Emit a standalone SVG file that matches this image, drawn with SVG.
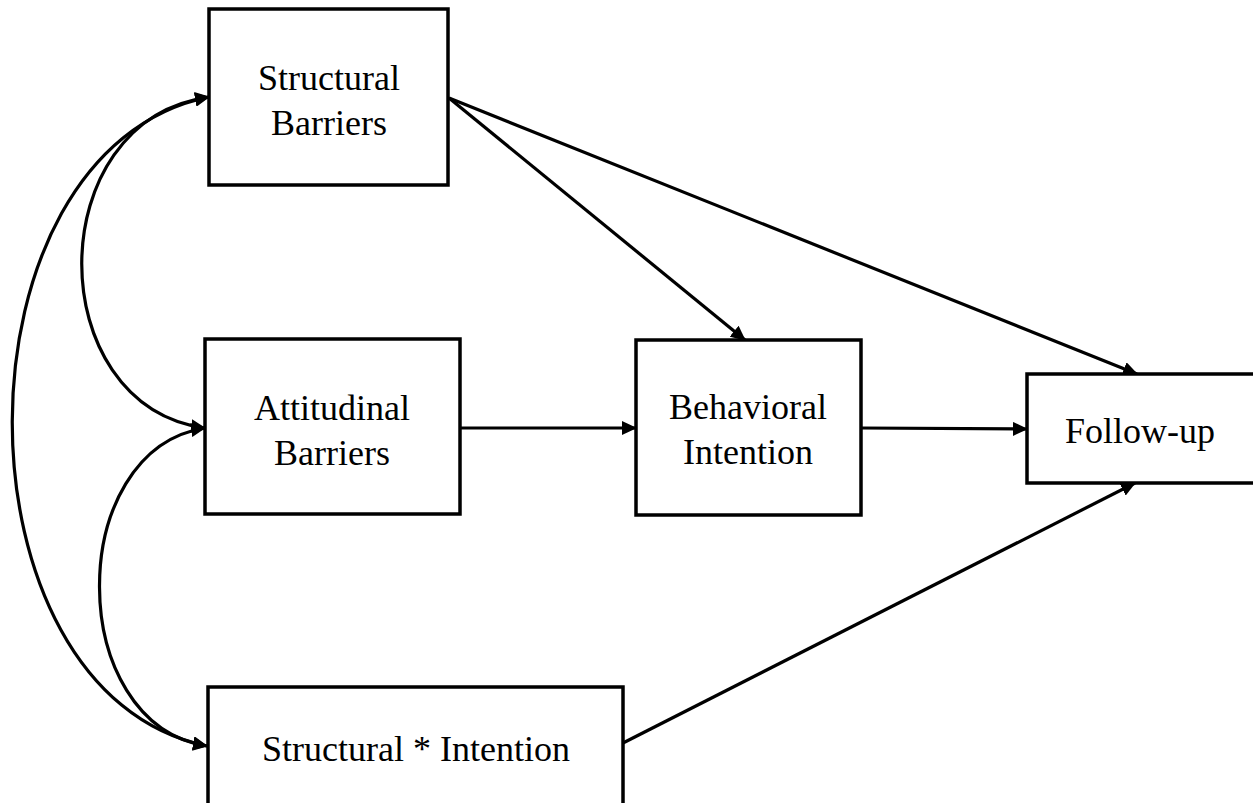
<svg xmlns="http://www.w3.org/2000/svg" width="1253" height="803" viewBox="0 0 1253 803">
<defs>
<marker id="ah" markerUnits="userSpaceOnUse" markerWidth="16" markerHeight="14" refX="14" refY="7" orient="auto-start-reverse">
<path d="M0,0 L15,7 L0,14 z" fill="#000"/>
</marker>
<style>
.box{fill:#fff;stroke:#000;stroke-width:3.5}
.lbl{font-size:36px;fill:#000;text-anchor:middle}
.conn{fill:none;stroke:#000;stroke-width:3.2}
</style>
</defs>
<rect width="1253" height="803" fill="#fff"/>
<g id="connectors">
<path class="conn" d="M209,97 C40,120 40,405 205,428" marker-start="url(#ah)" marker-end="url(#ah)"/>
<path class="conn" d="M205,428 C64,450 64,724 207,746" marker-start="url(#ah)" marker-end="url(#ah)"/>
<path class="conn" d="M209,97 C-53,150 -53,693 207,746" marker-start="url(#ah)" marker-end="url(#ah)"/>
<line class="conn" x1="449" y1="98" x2="745" y2="340" marker-end="url(#ah)"/>
<line class="conn" x1="449" y1="98" x2="1137" y2="374" marker-end="url(#ah)"/>
<line class="conn" x1="460" y1="428" x2="636" y2="428" marker-end="url(#ah)"/>
<line class="conn" x1="861" y1="428" x2="1027" y2="429" marker-end="url(#ah)"/>
<line class="conn" x1="623" y1="743" x2="1135" y2="483" marker-end="url(#ah)"/>
</g>
<g font-family="'Liberation Serif', 'Times New Roman', Times, serif">
<g id="structural-barriers">
<rect class="box" x="209" y="9" width="239" height="176"/>
<text class="lbl" x="329" y="90">Structural</text>
<text class="lbl" x="329" y="135">Barriers</text>
</g>
<g id="attitudinal-barriers">
<rect class="box" x="205" y="339" width="255" height="175"/>
<text class="lbl" x="332" y="420">Attitudinal</text>
<text class="lbl" x="332" y="465">Barriers</text>
</g>
<g id="behavioral-intention">
<rect class="box" x="636" y="340" width="225" height="175"/>
<text class="lbl" x="748" y="419">Behavioral</text>
<text class="lbl" x="748" y="464">Intention</text>
</g>
<g id="follow-up">
<rect class="box" x="1027" y="374" width="228" height="109"/>
<text class="lbl" x="1140" y="443">Follow-up</text>
</g>
<g id="structural-intention">
<rect class="box" x="208" y="687" width="415" height="130"/>
<text class="lbl" x="416" y="761">Structural * Intention</text>
</g>
</g>
</svg>
